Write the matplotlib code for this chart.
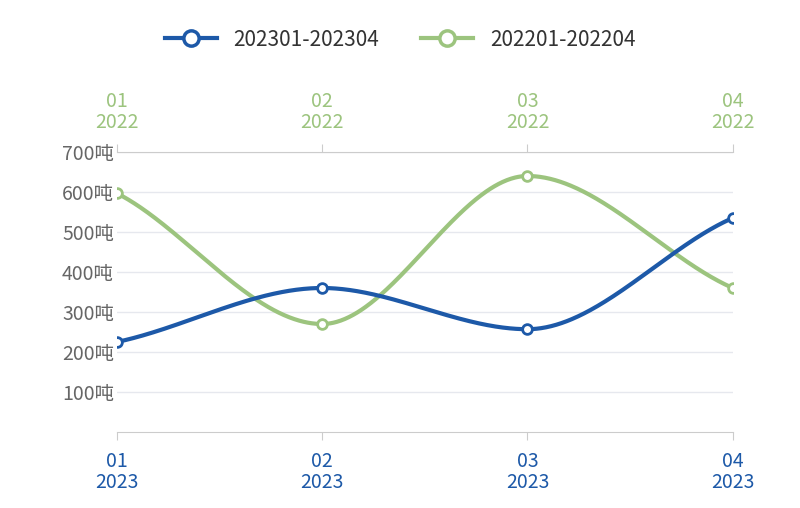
import numpy as np
import matplotlib
matplotlib.use("Agg")
import matplotlib.pyplot as plt
plt.rcParams['font.family'] = ['Noto Sans CJK SC', 'DejaVu Sans']

months = ['01', '02', '03', '04']
blue_vals = [225, 360, 257, 535]
green_vals = [597, 270, 640, 360]
yticks = [100, 200, 300, 400, 500, 600, 700]
blue_c = '#1d59a8'
green_c = '#9cc47e'

def pchip(x, y, n=200):
    x = np.asarray(x, float); y = np.asarray(y, float)
    h = np.diff(x); d = np.diff(y) / h
    m = np.zeros_like(y)
    for i in range(1, len(y) - 1):
        if d[i-1] * d[i] > 0:
            w1 = 2*h[i] + h[i-1]; w2 = h[i] + 2*h[i-1]
            m[i] = (w1 + w2) / (w1/d[i-1] + w2/d[i])
    m[0] = d[0] * 0.8; m[-1] = d[-1] * 0.8
    xs, ys = [], []
    for i in range(len(x) - 1):
        t = np.linspace(0, 1, n)
        h00 = 2*t**3 - 3*t**2 + 1; h10 = t**3 - 2*t**2 + t
        h01 = -2*t**3 + 3*t**2; h11 = t**3 - t**2
        xs.append(x[i] + t*h[i])
        ys.append(h00*y[i] + h10*h[i]*m[i] + h01*y[i+1] + h11*h[i]*m[i+1])
    return np.concatenate(xs), np.concatenate(ys)

fig = plt.figure(figsize=(8, 5.08), dpi=100)
ax = fig.add_axes([0.146, 0.1496, 0.77, 0.5512])
x = np.arange(len(months))
for vals, c in [(green_vals, green_c), (blue_vals, blue_c)]:
    sx, sy = pchip(x, vals)
    ax.plot(sx, sy, color=c, lw=3, zorder=3)
    ax.plot(x, vals, 'o', ms=7, mfc='white', mec=c, mew=2, zorder=4)

ax.set_xlim(0, 3); ax.set_ylim(0, 700)
ax.set_yticks(yticks)
ax.set_yticklabels([f'{v}吨' for v in yticks], fontsize=14, color='#666666')
ax.yaxis.grid(True, color='#e6e8ee', lw=1)
ax.set_axisbelow(True)
for s in ['left', 'right', 'top']:
    ax.spines[s].set_visible(False)
ax.spines['bottom'].set_color('#cccccc')
ax.tick_params(axis='y', length=0, pad=2)
ax.set_xticks(x)
ax.set_xticklabels([f'{m}\n2023' for m in months], fontsize=14, color=blue_c, linespacing=1.0)
ax.tick_params(axis='x', length=6, color='#cccccc', pad=8)
ax2 = ax.twiny()
ax2.set_xlim(0, 3)
ax2.set_xticks(x)
ax2.set_xticklabels([f'{m}\n2022' for m in months], fontsize=14, color=green_c, linespacing=1.0)
ax2.tick_params(axis='x', length=6, color='#cccccc', pad=8)
for s in ['left', 'right', 'bottom']:
    ax2.spines[s].set_visible(False)
ax2.spines['top'].set_color('#cccccc')

from matplotlib.lines import Line2D
h = [Line2D([], [], color=blue_c, lw=3, marker='o', ms=11, mfc='white', mew=2.5),
     Line2D([], [], color=green_c, lw=3, marker='o', ms=11, mfc='white', mew=2.5)]
fig.legend(h, ['202301-202304', '202201-202204'], loc='center', bbox_to_anchor=(0.5, 0.922),
           ncol=2, frameon=False, fontsize=15, handlelength=2.5, columnspacing=2,
           labelcolor='#333333')
fig.savefig('out.png', dpi=100)
